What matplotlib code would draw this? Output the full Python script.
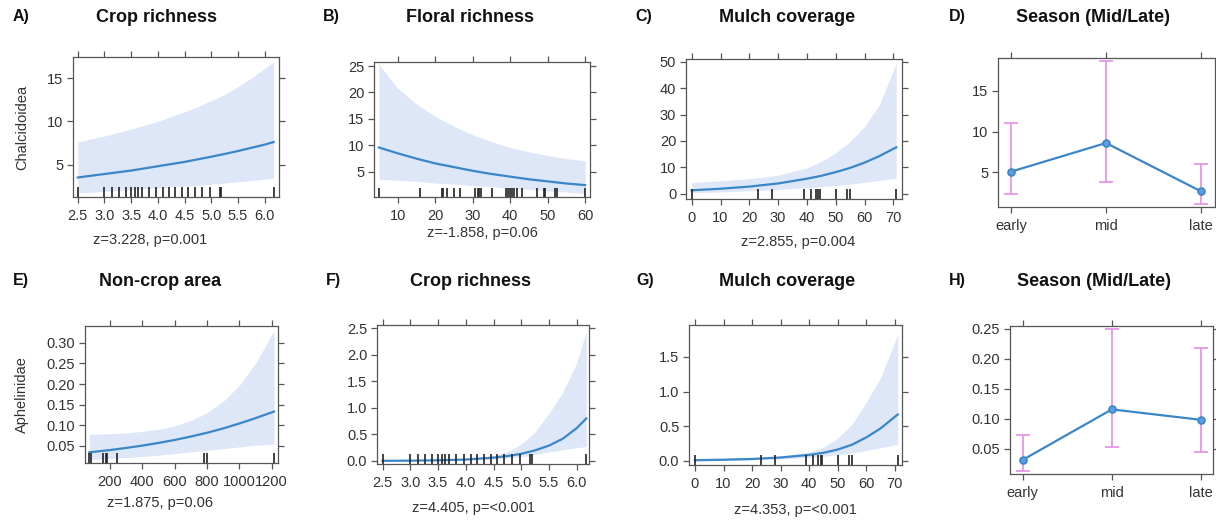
import matplotlib.pyplot as plt

plt.rcParams['font.family'] = ['Liberation Sans', 'DejaVu Sans']

W, H = 1216, 520
line_col = '#3b86c6'
band_col = '#dde7f8'
err_col = '#e48fe4'
box_col = '#555555'

# crop richness panels (A, F)
crop_x = [2.5, 3.0, 3.5, 4.0, 4.5, 4.75, 5.0, 5.25, 5.5, 5.75, 6.0, 6.17]
chal_crop_fit = [3.5, 3.9, 4.3, 4.8, 5.3, 5.6, 5.9, 6.22, 6.56, 6.93, 7.3, 7.6]
chal_crop_hi = [7.6, 8.3, 9.1, 10.0, 11.1, 11.7, 12.4, 13.1, 14.0, 15.0, 16.1, 16.9]
chal_crop_lo = [1.7, 1.9, 2.1, 2.3, 2.5, 2.6, 2.7, 2.85, 3.0, 3.15, 3.3, 3.4]
aph_crop_fit = [0.003, 0.006, 0.013, 0.027, 0.063, 0.093, 0.135, 0.2, 0.29, 0.42, 0.62, 0.80]
aph_crop_hi = [0.006, 0.011, 0.021, 0.045, 0.1, 0.17, 0.32, 0.55, 0.9, 1.3, 1.85, 2.44]
aph_crop_lo = [0.001, 0.003, 0.007, 0.017, 0.038, 0.055, 0.08, 0.12, 0.17, 0.21, 0.25, 0.27]
crop_rug = [2.5, 3.0, 3.14, 3.27, 3.4, 3.5, 3.58, 3.62, 3.7, 3.83, 3.96, 4.09,
            4.2, 4.32, 4.45, 4.56, 4.69, 4.83, 4.98, 5.16, 5.19, 6.17]

# floral richness (B)
floral_x = [5, 10, 15, 20, 25, 30, 35, 40, 45, 50, 55, 60]
chal_floral_fit = [9.6, 8.5, 7.5, 6.6, 5.9, 5.2, 4.6, 4.1, 3.6, 3.2, 2.8, 2.5]
chal_floral_hi = [25.3, 20.8, 17.8, 15.5, 13.6, 12.0, 10.7, 9.6, 8.8, 8.1, 7.5, 7.1]
chal_floral_lo = [3.6, 3.4, 3.2, 2.9, 2.7, 2.4, 2.2, 1.9, 1.7, 1.4, 1.2, 0.9]
floral_rug = [5.0, 16.0, 21.8, 22.2, 23.1, 25.1, 26.5, 30.7, 31.3, 31.8, 32.3,
              35.2, 38.9, 39.4, 39.9, 40.5, 41.0, 41.7, 43.2, 47.2, 49.0, 49.3,
              52.0, 52.6, 60.0]

# mulch coverage (C, G)
mulch_x = [0, 10, 20, 30, 40, 45, 50, 55, 60, 65, 71]
chal_mulch_fit = [1.3, 1.9, 2.7, 3.9, 5.7, 6.8, 8.2, 9.8, 11.8, 14.2, 17.6]
chal_mulch_hi = [4.3, 4.9, 5.7, 7.0, 9.8, 12.2, 15.5, 19.8, 25.5, 33.5, 49.4]
chal_mulch_lo = [0.4, 0.7, 1.1, 1.6, 2.3, 2.7, 3.1, 3.7, 4.3, 5.0, 5.9]
aph_mulch_fit = [0.011, 0.018, 0.029, 0.05, 0.088, 0.118, 0.165, 0.235, 0.34, 0.47, 0.67]
aph_mulch_hi = [0.03, 0.035, 0.045, 0.07, 0.13, 0.2, 0.33, 0.53, 0.85, 1.2, 1.82]
aph_mulch_lo = [0.004, 0.008, 0.015, 0.028, 0.05, 0.068, 0.09, 0.115, 0.15, 0.19, 0.24]
mulch_rug = [0, 23, 28, 39, 41.5, 43, 44, 44.5, 50, 54, 55, 71]

# non-crop area (E)
area_x = [72, 200, 300, 400, 500, 600, 700, 800, 900, 1000, 1100, 1214]
aph_area_fit = [0.034, 0.0395, 0.0446, 0.0503, 0.0568, 0.064, 0.0723, 0.0815,
                0.092, 0.104, 0.117, 0.133]
aph_area_hi = [0.078, 0.079, 0.081, 0.085, 0.09, 0.098, 0.111, 0.13, 0.158,
               0.197, 0.25, 0.329]
aph_area_lo = [0.016, 0.019, 0.021, 0.024, 0.027, 0.031, 0.035, 0.039, 0.043,
               0.047, 0.051, 0.054]
area_rug = [72, 82, 159, 175, 184, 241, 783, 802, 1214]

# season (D, H)
seasons = ['early', 'mid', 'late']
chal_season = [5.1, 8.6, 2.7]
chal_season_hi = [11.05, 18.6, 6.0]
chal_season_lo = [2.37, 3.9, 1.2]
aph_season = [0.031, 0.1155, 0.098]
aph_season_hi = [0.0727, 0.25, 0.218]
aph_season_lo = [0.0129, 0.0533, 0.044]


def add_box(fig, l, t, r, b):
    return fig.add_axes([l / W, 1 - b / H, (r - l) / W, (b - t) / H])


def style(ax, xlim, ylim, xticks, yticks, xlabels=None, ylabels=None):
    ax.set_xlim(xlim)
    ax.set_ylim(ylim)
    ax.set_xticks(xticks)
    ax.set_yticks(yticks)
    if xlabels is not None:
        ax.set_xticklabels(xlabels)
    if ylabels is not None:
        ax.set_yticklabels(ylabels)
    ax.tick_params(direction='out', top=True, right=True, length=4.5,
                   width=0.9, color=box_col, labelsize=10.5, labelcolor='#333333')
    ax.tick_params(axis='x', pad=4)
    ax.tick_params(axis='y', pad=2.5)
    for s in ax.spines.values():
        s.set_color(box_col)
        s.set_linewidth(0.9)


def effect(ax, x, fit, lo, hi, rug):
    ax.fill_between(x, lo, hi, color=band_col, lw=0)
    ax.plot(x, fit, color=line_col, lw=1.6)
    ax.vlines(rug, 0, 0.07, transform=ax.get_xaxis_transform(), color='#222222', lw=1.2)


def season(ax, y, lo, hi):
    pos = list(range(len(seasons)))
    err = [[v - l for v, l in zip(y, lo)], [h - v for v, h in zip(y, hi)]]
    ax.errorbar(pos, y, yerr=err, fmt='none', ecolor=err_col, elinewidth=1.2,
                capsize=5, capthick=1.2)
    ax.plot(pos, y, color=line_col, lw=1.6, marker='o', ms=5,
            mfc='#5b9de0', mec=line_col, mew=1.2)


def label(fig, x, y, text, **kw):
    fig.text(x / W, 1 - y / H, text, ha='center', va='center', **kw)


fig = plt.figure(figsize=(W / 100, H / 100), dpi=100)

# A
ax = add_box(fig, 73, 57, 279, 197)
effect(ax, crop_x, chal_crop_fit, chal_crop_lo, chal_crop_hi, crop_rug)
style(ax, (2.41, 6.27), (1.24, 17.44), [2.5, 3, 3.5, 4, 4.5, 5, 5.5, 6], [5, 10, 15],
      ['2.5', '3.0', '3.5', '4.0', '4.5', '5.0', '5.5', '6.0'])

# B
ax = add_box(fig, 374, 62, 590, 197)
effect(ax, floral_x, chal_floral_fit, chal_floral_lo, chal_floral_hi, floral_rug)
style(ax, (3.67, 61.3), (0.25, 25.76), [10, 20, 30, 40, 50, 60], [5, 10, 15, 20, 25])

# C
ax = add_box(fig, 686, 59, 902, 199)
effect(ax, mulch_x, chal_mulch_fit, chal_mulch_lo, chal_mulch_hi, mulch_rug)
style(ax, (-1.98, 73.0), (-2.0, 51.1), [0, 10, 20, 30, 40, 50, 60, 70], [0, 10, 20, 30, 40, 50])

# D
ax = add_box(fig, 998, 58, 1215, 207)
season(ax, chal_season, chal_season_lo, chal_season_hi)
style(ax, (-0.137, 2.147), (0.79, 18.97), [0, 1, 2], [5, 10, 15], seasons)

# E
ax = add_box(fig, 85, 326, 278, 463)
effect(ax, area_x, aph_area_fit, aph_area_lo, aph_area_hi, area_rug)
style(ax, (45, 1239), (0.008, 0.341), [200, 400, 600, 800, 1000, 1200],
      [0.05, 0.10, 0.15, 0.20, 0.25, 0.30], None,
      ['0.05', '0.10', '0.15', '0.20', '0.25', '0.30'])

# F
ax = add_box(fig, 377, 325, 589, 464)
effect(ax, crop_x, aph_crop_fit, aph_crop_lo, aph_crop_hi, crop_rug)
style(ax, (2.40, 6.22), (-0.057, 2.56), [2.5, 3, 3.5, 4, 4.5, 5, 5.5, 6],
      [0, 0.5, 1.0, 1.5, 2.0, 2.5],
      ['2.5', '3.0', '3.5', '4.0', '4.5', '5.0', '5.5', '6.0'],
      ['0.0', '0.5', '1.0', '1.5', '2.0', '2.5'])

# G
ax = add_box(fig, 689, 325, 902, 465)
effect(ax, mulch_x, aph_mulch_fit, aph_mulch_lo, aph_mulch_hi, mulch_rug)
style(ax, (-2.1, 72.5), (-0.058, 1.96), [0, 10, 20, 30, 40, 50, 60, 70],
      [0, 0.5, 1.0, 1.5], None, ['0.0', '0.5', '1.0', '1.5'])

# H
ax = add_box(fig, 1010, 326, 1213, 474)
season(ax, aph_season, aph_season_lo, aph_season_hi)
style(ax, (-0.142, 2.134), (0.0074, 0.255), [0, 1, 2],
      [0.05, 0.10, 0.15, 0.20, 0.25], seasons,
      ['0.05', '0.10', '0.15', '0.20', '0.25'])

# y axis titles (left column only)
label(fig, 22, 127, 'Chalcidoidea', fontsize=10.5, color='#333333', rotation=90)
label(fig, 22, 395, 'Aphelinidae', fontsize=10.5, color='#333333', rotation=90)

# panel letters and titles
letters = [('A)', 21, 17), ('B)', 331, 17), ('C)', 644, 17), ('D)', 957, 17),
           ('E)', 21, 281), ('F)', 333, 281), ('G)', 645, 281), ('H)', 957, 281)]
for t, x, y in letters:
    label(fig, x, y, t, fontsize=11.5, fontweight='bold', color='#111111')

titles = [('Crop richness', 157, 17), ('Floral richness', 470, 17),
          ('Mulch coverage', 787, 17), ('Season (Mid/Late)', 1093, 17),
          ('Non-crop area', 160, 281), ('Crop richness', 470, 281),
          ('Mulch coverage', 787, 281), ('Season (Mid/Late)', 1094, 281)]
for t, x, y in titles:
    label(fig, x, y, t, fontsize=13, fontweight='bold', color='#111111')

notes = [('z=3.228, p=0.001', 150, 240), ('z=-1.858, p=0.06', 482, 233),
         ('z=2.855, p=0.004', 798, 242), ('z=1.875, p=0.06', 160, 503),
         ('z=4.405, p=<0.001', 474, 508), ('z=4.353, p=<0.001', 795, 510)]
for t, x, y in notes:
    label(fig, x, y, t, fontsize=10.5, color='#333333')

fig.savefig('out.png', dpi=100)
